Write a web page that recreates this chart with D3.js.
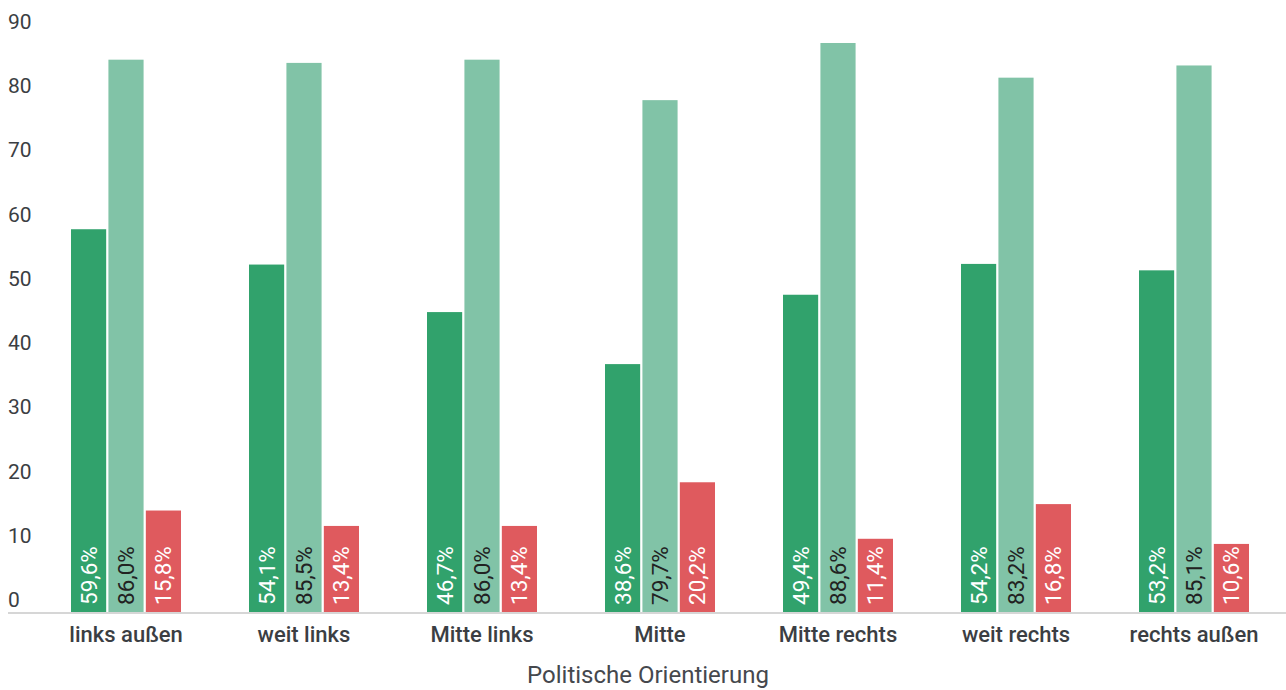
<!DOCTYPE html>
<html>
<head>
<meta charset="utf-8">
<script src="https://cdn.jsdelivr.net/npm/d3@7"></script>
<style>
  body { margin: 0; background: #fff; font-family: Roboto, sans-serif; }
</style>
</head>
<body>
<div id="chart"></div>
<script>
const categories = ["links außen", "weit links", "Mitte links", "Mitte", "Mitte rechts", "weit rechts", "rechts außen"];
const seriesA = [59.6, 54.1, 46.7, 38.6, 49.4, 54.2, 53.2];
const seriesB = [86.0, 85.5, 86.0, 79.7, 88.6, 83.2, 85.1];
const seriesC = [15.8, 13.4, 13.4, 20.2, 11.4, 16.8, 10.6];
const yTicks = [0, 10, 20, 30, 40, 50, 60, 70, 80, 90];
const axisTitle = "Politische Orientierung";

const W = 1286, H = 690;
const svg = d3.select("#chart").append("svg").attr("width", W).attr("height", H);

const x = d3.scaleBand().domain(categories).range([37, 1283]).paddingInner(0).paddingOuter(0);
const y = d3.scaleLinear().domain([0, 90]).range([612, 34]);
const sub = d3.scaleBand().domain([0, 1, 2]).range([34, x.bandwidth() - 34]).paddingInner(0.06);

const colors = ["#31a26c", "#81c3a7", "#df5a5e"];
const textColors = ["#ffffff", "#222222", "#ffffff"];

// y tick labels, sitting above each tick
svg.append("g").selectAll("text").data(yTicks).join("text")
  .attr("x", 8).attr("y", d => y(d) - 5)
  .attr("font-size", 21).attr("fill", "#3b3e43")
  .text(d => d);

const rows = categories.map((c, i) => [seriesA[i], seriesB[i], seriesC[i]].map((v, k) => ({c, v, k})));
const groups = svg.append("g").selectAll("g").data(rows).join("g")
  .attr("transform", d => `translate(${x(d[0].c)},0)`);

groups.selectAll("rect").data(d => d).join("rect")
  .attr("x", d => sub(d.k)).attr("width", sub.bandwidth())
  .attr("y", d => y(d.v)).attr("height", d => y(0) - y(d.v))
  .attr("fill", d => colors[d.k]);

groups.selectAll("text").data(d => d).join("text")
  .attr("transform", d => `translate(${sub(d.k) + sub.bandwidth() / 2 + 8},${y(0) - 7}) rotate(-90)`)
  .attr("font-size", 22.5).attr("fill", d => textColors[d.k])
  .text(d => d.v.toFixed(1).replace(".", ",") + "%");

// baseline
svg.append("line").attr("x1", 8).attr("x2", W).attr("y1", y(0) + 1).attr("y2", y(0) + 1)
  .attr("stroke", "#d6d6d6").attr("stroke-width", 2);

// category labels
svg.append("g").selectAll("text").data(categories).join("text")
  .attr("x", d => x(d) + x.bandwidth() / 2).attr("y", 642)
  .attr("text-anchor", "middle").attr("font-size", 22).attr("font-weight", 500).attr("fill", "#3b3e43")
  .text(d => d);

svg.append("text").attr("x", 648).attr("y", 683).attr("text-anchor", "middle")
  .attr("font-size", 24).attr("fill", "#45484d").text(axisTitle);
</script>
</body>
</html>
